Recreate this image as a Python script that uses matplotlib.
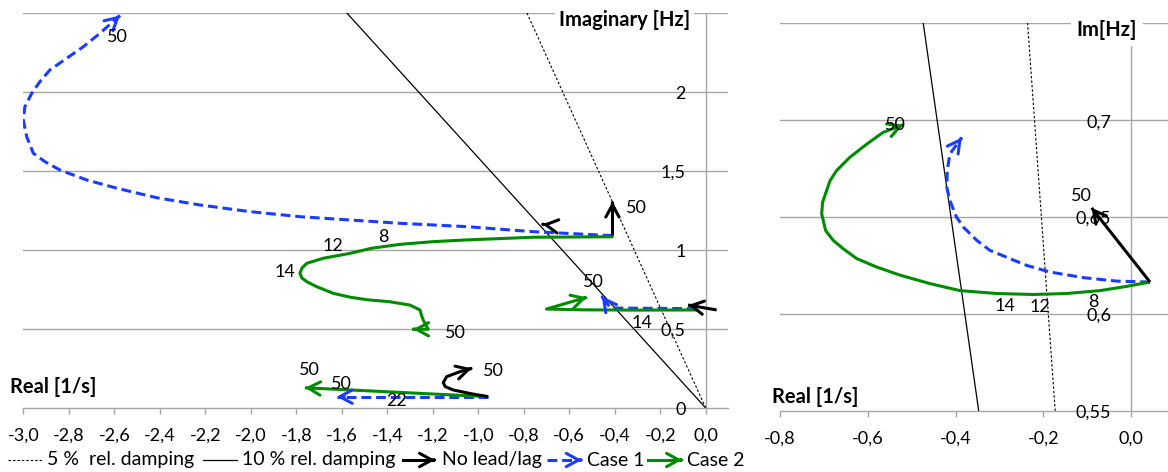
import matplotlib
matplotlib.use("Agg")
import matplotlib.pyplot as plt
import numpy as np
import matplotlib.transforms as mtransforms

plt.rcParams['font.family'] = ['Lato', 'DejaVu Sans']

# ---------------- data ----------------
damping_ratios = [0.05, 0.10]          # 5 % and 10 % relative damping

# Left chart, x ticks / y ticks
left_xticks = [-3.0, -2.8, -2.6, -2.4, -2.2, -2.0, -1.8, -1.6, -1.4, -1.2, -1.0,
               -0.8, -0.6, -0.4, -0.2, 0.0]
left_xticklabels = ['-3,0', '-2,8', '-2,6', '-2,4', '-2,2', '-2,0', '-1,8', '-1,6',
                    '-1,4', '-1,2', '-1,0', '-0,8', '-0,6', '-0,4', '-0,2', '0,0']
left_grid = [0.5, 1.0, 1.5, 2.0, 2.5]
left_yticks = [0, 0.5, 1.0, 1.5, 2.0]
left_yticklabels = ['0', '0,5', '1', '1,5', '2']

# Right chart ticks
right_xticks = [-0.8, -0.6, -0.4, -0.2, 0.0]
right_xticklabels = ['-0,8', '-0,6', '-0,4', '-0,2', '0,0']
right_grid = [0.6, 0.65, 0.7, 0.75]
right_yticks = [0.55, 0.6, 0.65, 0.7]
right_yticklabels = ['0,55', '0,6', '0,65', '0,7']

# ---- Left chart: upper mode ----
case1_up_re = [-0.41, -0.465, -0.758, -1.051, -1.344, -1.564, -1.784, -2.004, -2.224,
               -2.414, -2.589, -2.721, -2.839, -2.905, -2.956, -2.985, -3.0, -2.993,
               -2.963, -2.927, -2.883, -2.809, -2.736, -2.663, -2.575]
case1_up_im = [1.090, 1.094, 1.115, 1.147, 1.168, 1.189, 1.210, 1.242, 1.284,
               1.330, 1.390, 1.442, 1.505, 1.558, 1.611, 1.716, 1.822, 1.906,
               1.990, 2.064, 2.138, 2.212, 2.285, 2.370, 2.482]
case2_up_re = [-0.405, -0.758, -1.051, -1.198, -1.344, -1.47, -1.564, -1.681, -1.754,
               -1.775, -1.784, -1.775, -1.754, -1.71, -1.637, -1.56, -1.49, -1.389,
               -1.30, -1.256, -1.250, -1.242, -1.220, -1.286]
case2_up_im = [1.083, 1.080, 1.063, 1.052, 1.035, 1.010, 0.978, 0.947, 0.915,
               0.885, 0.852, 0.822, 0.799, 0.767, 0.725, 0.700, 0.685, 0.672,
               0.651, 0.620, 0.588, 0.557, 0.498, 0.498]
nolead_up_re = [-0.41, -0.41]
nolead_up_im = [1.094, 1.305]
nolead_up2_re = [-0.712, -0.717]
nolead_up2_im = [1.161, 1.162]

# ---- Left chart: middle mode ----
case2_mid_re = [-0.04, -0.30, -0.55, -0.70, -0.523]
case2_mid_im = [0.620, 0.619, 0.621, 0.626, 0.700]
case1_mid_re = [-0.04, -0.20, -0.40, -0.42, -0.457]
case1_mid_im = [0.628, 0.630, 0.632, 0.636, 0.706]
nolead_mid_re = [0.048, -0.077]
nolead_mid_im = [0.620, 0.651]

# ---- Left chart: lower mode ----
case2_low_re = [-0.956, -1.762]
case2_low_im = [0.0715, 0.128]
case1_low_re = [-0.956, -1.622]
case1_low_im = [0.0715, 0.0715]
nolead_low_re = [-0.956, -1.03, -1.11, -1.145, -1.154, -1.139, -1.08, -1.029]
nolead_low_im = [0.0715, 0.09, 0.114, 0.135, 0.160, 0.198, 0.230, 0.251]

# Left chart annotation labels (text, re, im)
left_labels = [('50', -2.587, 2.349), ('50', -0.304, 1.263), ('8', -1.417, 1.083),
               ('12', -1.637, 1.027), ('14', -1.85, 0.858), ('50', -1.099, 0.476),
               ('50', -0.494, 0.80), ('14', -0.282, 0.54), ('50', -1.74, 0.24),
               ('50', -1.60, 0.15), ('22', -1.359, 0.044), ('50', -0.934, 0.234)]

# ---- Right chart (zoom of middle mode) ----
case2_r_re = [0.043, -0.010, -0.071, -0.147, -0.223, -0.306, -0.39, -0.458, -0.527,
              -0.580, -0.625, -0.656, -0.679, -0.696, -0.705, -0.703, -0.686, -0.671,
              -0.641, -0.602, -0.565, -0.519]
case2_r_im = [0.6164, 0.6142, 0.612, 0.6105, 0.610, 0.6105, 0.612, 0.6156, 0.620,
              0.6242, 0.6285, 0.6336, 0.638, 0.6430, 0.6516, 0.6576, 0.6688, 0.674,
              0.6808, 0.6877, 0.6937, 0.6976]
case1_r_re = [0.043, -0.033, -0.109, -0.185, -0.238, -0.276, -0.322, -0.352, -0.382,
              -0.398, -0.413, -0.420, -0.419, -0.413, -0.386]
case1_r_im = [0.6164, 0.6169, 0.6187, 0.6216, 0.625, 0.6285, 0.6328, 0.638, 0.6447,
              0.650, 0.6585, 0.6653, 0.674, 0.6825, 0.691]
nolead_r_re = [0.043, -0.090]
nolead_r_im = [0.6164, 0.6547]
right_labels = [('50', -0.538, 0.6976), ('50', -0.113, 0.6606), ('14', -0.288, 0.604),
                ('12', -0.208, 0.6035), ('8', -0.086, 0.606)]

# ---------------- styling ----------------
GREY = '#A6A6A6'
GREEN = '#008C00'
BLUE = '#1A3CFF'
BLACK = '#000000'
FS = 13
FS_TITLE = 14.5
FS_LEG = 14
W, H = 1168, 472

fig = plt.figure(figsize=(W / 100, H / 100), dpi=100)

axL = fig.add_axes([23.3 / W, 1 - 408 / H, (728 - 23.3) / W, (408 - 12.7) / H])
axL.set_xlim(-3.0, 0.098)
axL.set_ylim(0, 2.5)
axR = fig.add_axes([780 / W, 1 - 410.7 / H, (1168 - 780) / W, (410.7 - 23.3) / H])
axR.set_xlim(-0.8, 0.084)
axR.set_ylim(0.55, 0.75)


def setup(ax, xticks, xlabels, grid, yticks, ylabels):
    for s in ['top', 'right', 'left']:
        ax.spines[s].set_visible(False)
    ax.spines['bottom'].set_color(GREY)
    ax.spines['bottom'].set_linewidth(1.0)
    ax.set_xticks(xticks)
    ax.set_xticklabels(xlabels, fontsize=FS)
    ax.tick_params(axis='x', direction='out', length=4, color=GREY, width=1.0, pad=10)
    ax.set_yticks([])
    for g in grid:
        ax.axhline(g, color=GREY, lw=1.0, zorder=0.5)
    ax.axvline(0, color=GREY, lw=1.0, zorder=0.5)
    off = mtransforms.offset_copy(ax.transData, fig=fig, x=-20, y=-2, units='dots')
    for v, lab in zip(yticks, ylabels):
        ax.text(0, v, lab, transform=off, ha='right', va='center', fontsize=FS,
                clip_on=False)


setup(axL, left_xticks, left_xticklabels, left_grid, left_yticks, left_yticklabels)
setup(axR, right_xticks, right_xticklabels, right_grid, right_yticks, right_yticklabels)


def damping_lines(ax, f_lo, f_hi):
    for z, style in zip(damping_ratios, [dict(ls=(0, (2.2, 1.8)), lw=0.8),
                                         dict(ls='-', lw=0.9)]):
        f = np.array([f_lo, f_hi])
        sigma = -z * 2 * np.pi * f / np.sqrt(1 - z ** 2)
        ax.plot(sigma, f, color=BLACK, zorder=2, **style)


damping_lines(axL, 0.0, 2.6)
damping_lines(axR, 0.5, 0.8)


def arrow_curve(ax, xs, ys, color, dashed=False, lw=2.2):
    kw = dict(color=color, lw=lw, zorder=3, solid_capstyle='butt',
              solid_joinstyle='round')
    if dashed:
        kw['dashes'] = (3.2, 1.6)
    ax.plot(xs, ys, **kw)
    x1, y1 = xs[-1], ys[-1]
    x0, y0 = xs[-2], ys[-2]
    t = 0.05
    ax.annotate('', xy=(x1, y1), xytext=(x1 - t * (x1 - x0), y1 - t * (y1 - y0)),
                arrowprops=dict(arrowstyle='->,head_length=0.55,head_width=0.3',
                                color=color, lw=lw, shrinkA=0, shrinkB=0,
                                mutation_scale=16), zorder=4)


# left chart curves
arrow_curve(axL, case1_up_re, case1_up_im, BLUE, dashed=True)
arrow_curve(axL, case2_up_re, case2_up_im, GREEN)
arrow_curve(axL, nolead_up_re, nolead_up_im, BLACK)
arrow_curve(axL, nolead_up2_re, nolead_up2_im, BLACK)
arrow_curve(axL, case1_mid_re, case1_mid_im, BLUE, dashed=True)
arrow_curve(axL, case2_mid_re, case2_mid_im, GREEN)
arrow_curve(axL, nolead_mid_re, nolead_mid_im, BLACK)
arrow_curve(axL, case1_low_re, case1_low_im, BLUE, dashed=True)
arrow_curve(axL, case2_low_re, case2_low_im, GREEN)
arrow_curve(axL, nolead_low_re, nolead_low_im, BLACK)
for t, x, y in left_labels:
    axL.text(x, y, t, fontsize=FS, ha='center', va='center', zorder=5)

# right chart curves
arrow_curve(axR, case1_r_re, case1_r_im, BLUE, dashed=True)
arrow_curve(axR, case2_r_re, case2_r_im, GREEN)
arrow_curve(axR, nolead_r_re, nolead_r_im, BLACK)
for t, x, y in right_labels:
    axR.text(x, y, t, fontsize=FS, ha='center', va='center', zorder=5)

# axis titles
fig.text(690 / W, 1 - 20 / H, 'Imaginary [Hz]', ha='right', va='center',
         fontsize=FS_TITLE, fontweight='bold', zorder=10,
         bbox=dict(facecolor='white', edgecolor='none', pad=3))
fig.text(1137 / W, 1 - 30 / H, 'Im[Hz]', ha='right', va='center', fontsize=FS_TITLE,
         fontweight='bold', zorder=10,
         bbox=dict(facecolor='white', edgecolor='none', pad=4))
fig.text(10 / W, 1 - 386.7 / H, 'Real [1/s]', ha='left', va='center',
         fontsize=FS_TITLE, fontweight='bold', zorder=10)
fig.text(772 / W, 1 - 396.7 / H, 'Real [1/s]', ha='left', va='center',
         fontsize=FS_TITLE, fontweight='bold', zorder=10)

# legend (drawn in pixel coordinates of an overlay axes)
axLeg = fig.add_axes([0, 0, 1, 1], zorder=20)
axLeg.set_xlim(0, W)
axLeg.set_ylim(H, 0)
axLeg.axis('off')
ly = 460
axLeg.plot([8, 43], [ly, ly], color=BLACK, lw=0.8, ls=(0, (2.2, 1.8)))
axLeg.text(46.7, ly, '5 %  rel. damping', fontsize=FS_LEG, va='center', ha='left')
axLeg.plot([203, 237], [ly, ly], color=BLACK, lw=0.9)
axLeg.text(241.7, ly, '10 % rel. damping', fontsize=FS_LEG, va='center', ha='left')


def leg_arrow(x0, x1, color, dashed):
    kw = dict(color=color, lw=2.2)
    if dashed:
        kw['dashes'] = (3.2, 1.6)
    axLeg.plot([x0, x1 - 2], [ly, ly], **kw)
    axLeg.annotate('', xy=(x1, ly), xytext=(x1 - 1, ly),
                   arrowprops=dict(arrowstyle='->,head_length=0.55,head_width=0.3',
                                   color=color, lw=2.2, shrinkA=0, shrinkB=0,
                                   mutation_scale=16))


leg_arrow(403, 435, BLACK, False)
axLeg.text(441.7, ly, 'No lead/lag', fontsize=FS_LEG, va='center', ha='left')
leg_arrow(546.7, 581.7, BLUE, True)
axLeg.text(586.7, ly, 'Case 1', fontsize=FS_LEG, va='center', ha='left')
leg_arrow(648, 682, GREEN, False)
axLeg.text(686.7, ly, 'Case 2', fontsize=FS_LEG, va='center', ha='left')

fig.savefig('out.png', dpi=100)
